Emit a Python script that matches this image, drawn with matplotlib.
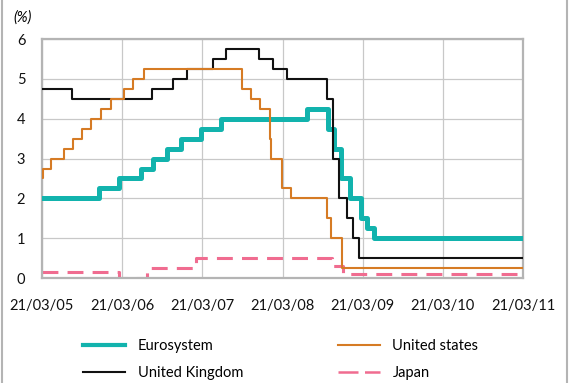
import matplotlib
matplotlib.use("Agg")
import matplotlib.pyplot as plt
from matplotlib.lines import Line2D
import datetime as dt

plt.rcParams['font.family'] = ['Lato', 'DejaVu Sans']

start = "2005-03-21"
end = "2011-03-21"

euro_dates = ["2005-03-21", "2005-12-06", "2006-03-08", "2006-06-15", "2006-08-09",
              "2006-10-11", "2006-12-13", "2007-03-14", "2007-06-13", "2008-07-09",
              "2008-10-15", "2008-11-12", "2008-12-10", "2009-01-21", "2009-03-11",
              "2009-04-08", "2009-05-13"]
euro_vals = [2.00, 2.25, 2.50, 2.75, 3.00, 3.25, 3.50, 3.75, 4.00, 4.25,
             3.75, 3.25, 2.50, 2.00, 1.50, 1.25, 1.00]

us_dates = ["2005-03-21", "2005-03-24", "2005-05-03", "2005-06-30", "2005-08-09",
            "2005-09-20", "2005-11-01", "2005-12-13", "2006-01-31", "2006-03-28",
            "2006-05-10", "2006-06-29", "2007-09-18", "2007-10-31", "2007-12-11",
            "2008-01-22", "2008-01-30", "2008-03-18", "2008-04-30", "2008-10-08",
            "2008-10-29", "2008-12-16"]
us_vals = [2.50, 2.75, 3.00, 3.25, 3.50, 3.75, 4.00, 4.25, 4.50, 4.75,
           5.00, 5.25, 4.75, 4.50, 4.25, 3.50, 3.00, 2.25, 2.00, 1.50,
           1.00, 0.25]

uk_dates = ["2005-03-21", "2005-08-04", "2006-08-03", "2006-11-09", "2007-01-11",
            "2007-05-10", "2007-07-05", "2007-12-06", "2008-02-07", "2008-04-10",
            "2008-10-08", "2008-11-06", "2008-12-04", "2009-01-08", "2009-02-05",
            "2009-03-05"]
uk_vals = [4.75, 4.50, 4.75, 5.00, 5.25, 5.50, 5.75, 5.50, 5.25, 5.00,
           4.50, 3.00, 2.00, 1.50, 1.00, 0.50]

jp_dates = ["2005-03-21", "2006-03-09", "2006-07-14", "2007-02-21", "2008-10-31",
            "2008-12-19"]
jp_vals = [0.15, 0.00, 0.25, 0.50, 0.30, 0.10]

tick_dates = ["2005-03-21", "2006-03-21", "2007-03-21", "2008-03-21",
              "2009-03-21", "2010-03-21", "2011-03-21"]
tick_labels = ["21/03/05", "21/03/06", "21/03/07", "21/03/08",
               "21/03/09", "21/03/10", "21/03/11"]
y_ticks = [0, 1, 2, 3, 4, 5, 6]


def todate(s):
    return dt.datetime.strptime(s, "%Y-%m-%d")


def series(dates, vals):
    d = [todate(s) for s in dates] + [todate(end)]
    v = list(vals) + [vals[-1]]
    return d, v


FS = 10.5

fig = plt.figure(figsize=(5.72, 3.83), dpi=100)
ax = fig.add_axes([0.0734, 0.274, 0.8409, 0.624])

grid_c = '#c8c8c8'
for s in ax.spines.values():
    s.set_color('#b4b4b4')
    s.set_linewidth(1.6)
ax.grid(True, color=grid_c, linewidth=0.9)
ax.set_axisbelow(True)

c_euro = '#12b3ad'
c_us = '#d67b24'
c_uk = '#111111'
c_jp = '#f06c90'

d, v = series(euro_dates, euro_vals)
ax.step(d, v, where='post', color=c_euro, lw=3.6, label='Eurosystem', zorder=3)
d, v = series(uk_dates, uk_vals)
ax.step(d, v, where='post', color=c_uk, lw=1.5, label='United Kingdom', zorder=4)
d, v = series(us_dates, us_vals)
ax.step(d, v, where='post', color=c_us, lw=1.5, label='United states', zorder=4)
d, v = series(jp_dates, jp_vals)
ax.step(d, v, where='post', color=c_jp, lw=2.2, label='Japan', zorder=2,
        dashes=(5.2, 3.0))

ax.set_xlim(todate(start), todate(end))
ax.set_ylim(0, 6)
ax.set_xticks([todate(s) for s in tick_dates])
ax.set_xticklabels(tick_labels)
ax.set_yticks(y_ticks)
ax.tick_params(axis='both', length=0, labelsize=FS, colors='#111111')
ax.tick_params(axis='x', pad=15)
ax.tick_params(axis='y', pad=12)

fig.text(0.023, 0.953, '(%)', fontsize=FS, style='italic', ha='left', va='center')

h_euro = Line2D([], [], color=c_euro, lw=3.0)
h_uk = Line2D([], [], color=c_uk, lw=1.5)
h_us = Line2D([], [], color=c_us, lw=1.5)
h_jp = Line2D([], [], color=c_jp, lw=1.8, dashes=(8.0, 2.6))
leg = fig.legend([h_euro, h_uk, h_us, h_jp],
                 ['Eurosystem', 'United Kingdom', 'United states', 'Japan'],
                 ncol=2, loc='center left', bbox_to_anchor=(0.145, 0.0614),
                 frameon=False, fontsize=FS, handlelength=2.9, handletextpad=0.85,
                 columnspacing=6.5, labelspacing=0.9, borderpad=0, borderaxespad=0)

# figure side borders
fig.add_artist(Line2D([0.003, 0.003], [0, 1], transform=fig.transFigure,
                      color='#b4b4b4', lw=1.5))
fig.add_artist(Line2D([0.992, 0.992], [0, 1], transform=fig.transFigure,
                      color='#b4b4b4', lw=1.5))

fig.savefig('out.png', dpi=100)
